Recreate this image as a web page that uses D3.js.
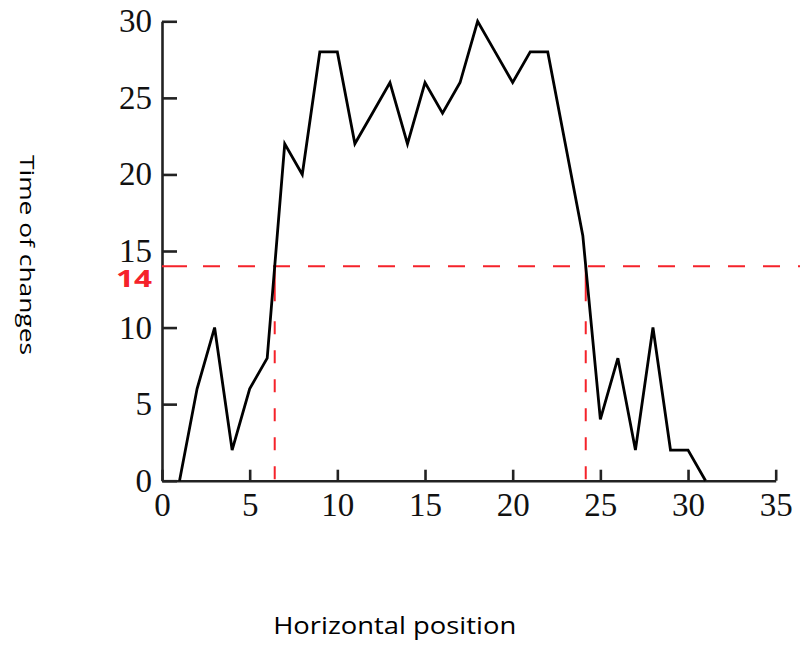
<!DOCTYPE html>
<html>
<head>
<meta charset="utf-8">
<script src="https://cdn.jsdelivr.net/npm/d3@7"></script>
<style>
  html, body { margin: 0; padding: 0; background: #fff; }
  svg { display: block; }
</style>
</head>
<body>
<svg id="chart" width="800" height="646"></svg>
<script>
// ---- data ----
const positions = [1,2,3,4,5,6,7,8,9,10,11,12,13,14,15,16,17,18,19,20,21,22,23,24,25,26,27,28,29,30,31];
const changes   = [0,6,10,2,6,8,22,20,28,28,22,24,26,22,26,24,26,30,28,26,28,28,22,16,4,8,2,10,2,2,0];
const xTicks = [0,5,10,15,20,25,30,35];
const yTicks = [0,5,10,15,20,25,30];
const threshold = 14;
const xTitle = "Horizontal position";
const yTitle = "Time of changes";

const svg = d3.select("#chart");
const x = d3.scaleLinear().domain([0, 35]).range([162, 775.7]);
const y = d3.scaleLinear().domain([0, 30]).range([480.7, 21.3]);

const red = "#f5222a";

// axes
const yAxis = d3.axisLeft(y).tickValues(yTicks).tickSizeInner(-15).tickSizeOuter(0).tickPadding(10);
const xAxis = d3.axisBottom(x).tickValues(xTicks).tickSizeInner(-11).tickSizeOuter(0).tickPadding(12);

const gx = svg.append("g").attr("transform", `translate(0,${y(0)})`).call(xAxis);
const gy = svg.append("g").attr("transform", `translate(${x(0)},0)`).call(yAxis);
[gx, gy].forEach(g => {
  g.selectAll("path.domain").attr("stroke", "#222").attr("stroke-width", 2.6);
  g.selectAll(".tick line").attr("stroke", "#222").attr("stroke-width", 2.6);
  g.selectAll(".tick text").attr("fill", "#111")
    .style("font-family", "'Liberation Serif', 'DejaVu Serif', serif")
    .style("font-size", "33px");
});

// threshold crossings from data
const data = positions.map((p, i) => ({x: p, y: changes[i]}));
const crossings = [];
for (let i = 1; i < data.length; i++) {
  const a = data[i-1], b = data[i];
  if ((a.y - threshold) * (b.y - threshold) < 0) {
    crossings.push(a.x + (threshold - a.y) / (b.y - a.y) * (b.x - a.x));
  }
}

// horizontal dashed line
const hDash = [25, 16].concat(d3.range(30).flatMap(() => [17, 18]));
svg.append("line")
  .attr("x1", x(0)).attr("x2", 800)
  .attr("y1", y(threshold)).attr("y2", y(threshold))
  .attr("stroke", red).attr("stroke-width", 2)
  .attr("stroke-dasharray", hDash.join(","));

// vertical dashed lines
const vDash = [35, 20].concat(d3.range(20).flatMap(() => [13, 16]));
svg.selectAll("line.vcross").data(crossings).join("line")
  .attr("class", "vcross")
  .attr("x1", d => x(d)).attr("x2", d => x(d))
  .attr("y1", y(threshold)).attr("y2", y(0))
  .attr("stroke", red).attr("stroke-width", 2)
  .attr("stroke-dasharray", vDash.join(","));

// data line
const line = d3.line().x(d => x(d.x)).y(d => y(d.y));
svg.append("path").datum(data)
  .attr("d", line)
  .attr("fill", "none")
  .attr("stroke", "#000")
  .attr("stroke-width", 2.8)
  .attr("stroke-linejoin", "miter");

// threshold label
svg.append("text")
  .attr("x", x(0) - 10).attr("y", y(threshold) + 21)
  .attr("text-anchor", "end")
  .attr("fill", red)
  .attr("textLength", 36).attr("lengthAdjust", "spacingAndGlyphs")
  .style("font-family", "'Open Sans', 'Noto Sans', sans-serif")
  .style("font-weight", "700")
  .style("font-size", "24px")
  .text(String(threshold));

// axis titles
svg.append("text")
  .attr("x", 394.7).attr("y", 634)
  .attr("text-anchor", "middle")
  .attr("fill", "#000")
  .attr("textLength", 243).attr("lengthAdjust", "spacingAndGlyphs")
  .style("font-family", "'Open Sans', 'Noto Sans', sans-serif")
  .style("font-size", "23px")
  .text(xTitle);

svg.append("text")
  .attr("transform", "translate(20,255) rotate(90)")
  .attr("text-anchor", "middle")
  .attr("fill", "#000")
  .attr("textLength", 200).attr("lengthAdjust", "spacingAndGlyphs")
  .style("font-family", "'Open Sans', 'Noto Sans', sans-serif")
  .style("font-size", "19.5px")
  .text(yTitle);
</script>
</body>
</html>
